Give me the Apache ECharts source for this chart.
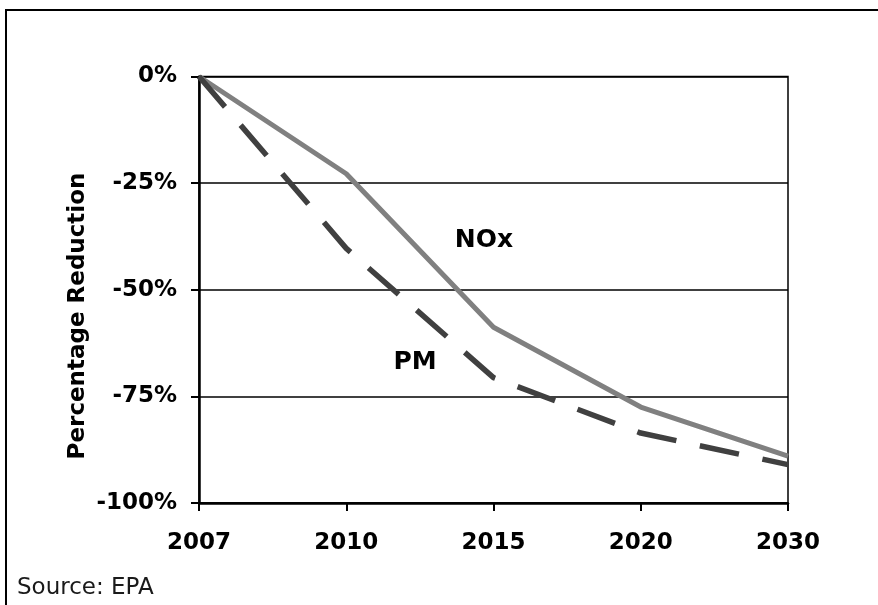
<!DOCTYPE html>
<html>
<head>
<meta charset="utf-8">
<script src="https://cdn.jsdelivr.net/npm/echarts@6/dist/echarts.min.js"></script>
<style>
html,body{margin:0;padding:0;background:#fff;}
#chart{width:878px;height:605px;}
</style>
</head>
<body>
<div id="chart"></div>
<script>
const years = ['2007', '2010', '2015', '2020', '2030'];
const noxValues = [0, -22.8, -58.8, -77.5, -89];
const pmValues = [0, -40.3, -70.6, -83.6, -91];
const yTicks = [0, -25, -50, -75, -100];

const chart = echarts.init(document.getElementById('chart'));
const font = 'DejaVu Sans';
chart.setOption({
  backgroundColor: '#fff',
  animation: false,
  grid: {
    left: 199, right: 90, top: 76.5, bottom: 102,
    show: true, borderColor: '#000', borderWidth: 1.5, backgroundColor: 'transparent'
  },
  xAxis: {
    type: 'category',
    data: years,
    boundaryGap: false,
    axisLine: { onZero: false, lineStyle: { color: '#000', width: 2.5 } },
    axisTick: { show: true, alignWithLabel: true, length: 8, lineStyle: { color: '#000', width: 2 } },
    axisLabel: { color: '#000', fontFamily: font, fontWeight: 'bold', fontSize: 23, margin: 29 },
    splitLine: { show: false }
  },
  yAxis: {
    type: 'value',
    min: -100, max: 0, interval: 25,
    axisLine: { show: true, lineStyle: { color: '#000', width: 2.5 } },
    axisTick: { show: true, length: 8, lineStyle: { color: '#000', width: 2 } },
    axisLabel: {
      color: '#000', fontFamily: font, fontWeight: 'bold', fontSize: 23, margin: 22,
      formatter: function (v) { return yTicks.indexOf(v) >= 0 ? v + '%' : ''; }
    },
    splitLine: { show: true, lineStyle: { color: '#000', width: 1.5 } }
  },
  series: [
    {
      name: 'NOx', type: 'line', data: noxValues, symbol: 'none',
      lineStyle: { color: '#808080', width: 5 }, z: 3
    },
    {
      name: 'PM', type: 'line', data: pmValues, symbol: 'none',
      lineStyle: { color: '#404040', width: 5.5, type: [40, 24], cap: 'butt' }, z: 4
    }
  ],
  graphic: [
    { type: 'rect', shape: { x: 6, y: 10, width: 1000, height: 1000 }, style: { fill: 'none', stroke: '#000', lineWidth: 2 }, silent: true, z: -1 },
    { type: 'text', x: 78, y: 316, rotation: Math.PI / 2,
      style: { text: 'Percentage Reduction', font: 'bold 23px "DejaVu Sans"', fill: '#000', textAlign: 'center', textVerticalAlign: 'middle' } },
    { type: 'text', x: 484, y: 240,
      style: { text: 'NOx', font: 'bold 25px "DejaVu Sans"', fill: '#000', textAlign: 'center', textVerticalAlign: 'middle' } },
    { type: 'text', x: 415, y: 362,
      style: { text: 'PM', font: 'bold 25px "DejaVu Sans"', fill: '#000', textAlign: 'center', textVerticalAlign: 'middle' } },
    { type: 'text', x: 17, y: 588,
      style: { text: 'Source: EPA', font: '23px "DejaVu Sans"', fill: '#1a1a1a', textAlign: 'left', textVerticalAlign: 'middle' } }
  ]
});
</script>
</body>
</html>
